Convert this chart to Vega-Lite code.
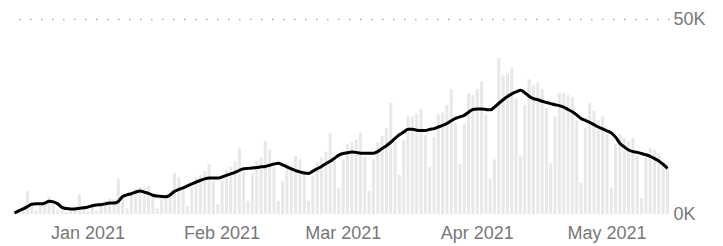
{
  "$schema": "https://vega.github.io/schema/vega-lite/v6.json",
  "width": 656,
  "height": 195,
  "autosize": {"type": "none"},
  "padding": {"left": 13, "top": 19, "right": 54, "bottom": 32},
  "background": "white",
  "config": {"view": {"stroke": null}, "font": "Liberation Sans"},
  "data": {"values": [
    {"date":"2020-12-15","cases":500,"avg":300},
    {"date":"2020-12-16","cases":1200,"avg":800},
    {"date":"2020-12-17","cases":2000,"avg":1300},
    {"date":"2020-12-18","cases":6000,"avg":1900},
    {"date":"2020-12-19","cases":3000,"avg":2500},
    {"date":"2020-12-20","cases":1000,"avg":2600},
    {"date":"2020-12-21","cases":2800,"avg":2600},
    {"date":"2020-12-22","cases":3200,"avg":2800},
    {"date":"2020-12-23","cases":4500,"avg":3300},
    {"date":"2020-12-24","cases":3500,"avg":3100},
    {"date":"2020-12-25","cases":800,"avg":2600},
    {"date":"2020-12-26","cases":1000,"avg":1700},
    {"date":"2020-12-27","cases":500,"avg":1400},
    {"date":"2020-12-28","cases":1600,"avg":1300},
    {"date":"2020-12-29","cases":2000,"avg":1300},
    {"date":"2020-12-30","cases":5000,"avg":1500},
    {"date":"2020-12-31","cases":2200,"avg":1600},
    {"date":"2021-01-01","cases":600,"avg":1800},
    {"date":"2021-01-02","cases":2000,"avg":2100},
    {"date":"2021-01-03","cases":800,"avg":2300},
    {"date":"2021-01-04","cases":3000,"avg":2400},
    {"date":"2021-01-05","cases":3400,"avg":2600},
    {"date":"2021-01-06","cases":4000,"avg":2800},
    {"date":"2021-01-07","cases":3800,"avg":2800},
    {"date":"2021-01-08","cases":9000,"avg":3200},
    {"date":"2021-01-09","cases":4000,"avg":4500},
    {"date":"2021-01-10","cases":1500,"avg":4900},
    {"date":"2021-01-11","cases":5400,"avg":5200},
    {"date":"2021-01-12","cases":6500,"avg":5600},
    {"date":"2021-01-13","cases":7000,"avg":5900},
    {"date":"2021-01-14","cases":6800,"avg":5600},
    {"date":"2021-01-15","cases":7200,"avg":5300},
    {"date":"2021-01-16","cases":4800,"avg":4800},
    {"date":"2021-01-17","cases":1400,"avg":4600},
    {"date":"2021-01-18","cases":4000,"avg":4500},
    {"date":"2021-01-19","cases":5200,"avg":4400},
    {"date":"2021-01-20","cases":6000,"avg":4900},
    {"date":"2021-01-21","cases":10500,"avg":5800},
    {"date":"2021-01-22","cases":9500,"avg":6300},
    {"date":"2021-01-23","cases":6400,"avg":6700},
    {"date":"2021-01-24","cases":2000,"avg":7200},
    {"date":"2021-01-25","cases":6900,"avg":7700},
    {"date":"2021-01-26","cases":9400,"avg":8200},
    {"date":"2021-01-27","cases":10000,"avg":8600},
    {"date":"2021-01-28","cases":11000,"avg":9000},
    {"date":"2021-01-29","cases":12800,"avg":9200},
    {"date":"2021-01-30","cases":8500,"avg":9200},
    {"date":"2021-01-31","cases":2600,"avg":9200},
    {"date":"2021-02-01","cases":8500,"avg":9500},
    {"date":"2021-02-02","cases":11400,"avg":9900},
    {"date":"2021-02-03","cases":12000,"avg":10300},
    {"date":"2021-02-04","cases":13500,"avg":10700},
    {"date":"2021-02-05","cases":17000,"avg":11200},
    {"date":"2021-02-06","cases":11000,"avg":11600},
    {"date":"2021-02-07","cases":3300,"avg":11700},
    {"date":"2021-02-08","cases":10500,"avg":11800},
    {"date":"2021-02-09","cases":13700,"avg":11900},
    {"date":"2021-02-10","cases":14500,"avg":12100},
    {"date":"2021-02-11","cases":18700,"avg":12200},
    {"date":"2021-02-12","cases":16500,"avg":12500},
    {"date":"2021-02-13","cases":12000,"avg":12800},
    {"date":"2021-02-14","cases":3300,"avg":13000},
    {"date":"2021-02-15","cases":8500,"avg":12600},
    {"date":"2021-02-16","cases":13000,"avg":12100},
    {"date":"2021-02-17","cases":12500,"avg":11600},
    {"date":"2021-02-18","cases":14900,"avg":11100},
    {"date":"2021-02-19","cases":14000,"avg":10800},
    {"date":"2021-02-20","cases":10000,"avg":10500},
    {"date":"2021-02-21","cases":3300,"avg":10400},
    {"date":"2021-02-22","cases":9900,"avg":11000},
    {"date":"2021-02-23","cases":13300,"avg":11600},
    {"date":"2021-02-24","cases":14600,"avg":12200},
    {"date":"2021-02-25","cases":16000,"avg":12900},
    {"date":"2021-02-26","cases":20800,"avg":13500},
    {"date":"2021-02-27","cases":13600,"avg":14300},
    {"date":"2021-02-28","cases":6700,"avg":15100},
    {"date":"2021-03-01","cases":14000,"avg":15500},
    {"date":"2021-03-02","cases":18000,"avg":15700},
    {"date":"2021-03-03","cases":18500,"avg":15900},
    {"date":"2021-03-04","cases":19000,"avg":15800},
    {"date":"2021-03-05","cases":20800,"avg":15600},
    {"date":"2021-03-06","cases":14800,"avg":15600},
    {"date":"2021-03-07","cases":6000,"avg":15600},
    {"date":"2021-03-08","cases":14000,"avg":15600},
    {"date":"2021-03-09","cases":18400,"avg":16000},
    {"date":"2021-03-10","cases":20000,"avg":16800},
    {"date":"2021-03-11","cases":22000,"avg":17500},
    {"date":"2021-03-12","cases":28500,"avg":18400},
    {"date":"2021-03-13","cases":18500,"avg":19400},
    {"date":"2021-03-14","cases":10000,"avg":20300},
    {"date":"2021-03-15","cases":18900,"avg":21000},
    {"date":"2021-03-16","cases":25000,"avg":21700},
    {"date":"2021-03-17","cases":25000,"avg":21700},
    {"date":"2021-03-18","cases":25800,"avg":21500},
    {"date":"2021-03-19","cases":27000,"avg":21400},
    {"date":"2021-03-20","cases":20300,"avg":21400},
    {"date":"2021-03-21","cases":12000,"avg":21700},
    {"date":"2021-03-22","cases":19700,"avg":21900},
    {"date":"2021-03-23","cases":25600,"avg":22300},
    {"date":"2021-03-24","cases":26000,"avg":22700},
    {"date":"2021-03-25","cases":28000,"avg":23200},
    {"date":"2021-03-26","cases":32000,"avg":23900},
    {"date":"2021-03-27","cases":23300,"avg":24500},
    {"date":"2021-03-28","cases":12800,"avg":24900},
    {"date":"2021-03-29","cases":23000,"avg":25300},
    {"date":"2021-03-30","cases":31000,"avg":26100},
    {"date":"2021-03-31","cases":30500,"avg":26800},
    {"date":"2021-04-01","cases":32000,"avg":26900},
    {"date":"2021-04-02","cases":34000,"avg":26900},
    {"date":"2021-04-03","cases":25500,"avg":26800},
    {"date":"2021-04-04","cases":9000,"avg":26700},
    {"date":"2021-04-05","cases":14000,"avg":27400},
    {"date":"2021-04-06","cases":40000,"avg":28400},
    {"date":"2021-04-07","cases":35500,"avg":29300},
    {"date":"2021-04-08","cases":36000,"avg":30100},
    {"date":"2021-04-09","cases":37400,"avg":30800},
    {"date":"2021-04-10","cases":29700,"avg":31300},
    {"date":"2021-04-11","cases":15000,"avg":31700},
    {"date":"2021-04-12","cases":28000,"avg":31100},
    {"date":"2021-04-13","cases":34500,"avg":30200},
    {"date":"2021-04-14","cases":33000,"avg":29600},
    {"date":"2021-04-15","cases":33600,"avg":29300},
    {"date":"2021-04-16","cases":32000,"avg":28900},
    {"date":"2021-04-17","cases":27200,"avg":28600},
    {"date":"2021-04-18","cases":13000,"avg":28300},
    {"date":"2021-04-19","cases":25000,"avg":28000},
    {"date":"2021-04-20","cases":31000,"avg":27800},
    {"date":"2021-04-21","cases":31000,"avg":27400},
    {"date":"2021-04-22","cases":30500,"avg":26800},
    {"date":"2021-04-23","cases":30000,"avg":26200},
    {"date":"2021-04-24","cases":24000,"avg":25400},
    {"date":"2021-04-25","cases":8000,"avg":24500},
    {"date":"2021-04-26","cases":22000,"avg":24000},
    {"date":"2021-04-27","cases":28500,"avg":23500},
    {"date":"2021-04-28","cases":26500,"avg":22900},
    {"date":"2021-04-29","cases":24000,"avg":22300},
    {"date":"2021-04-30","cases":25000,"avg":21800},
    {"date":"2021-05-01","cases":20500,"avg":21300},
    {"date":"2021-05-02","cases":6700,"avg":20800},
    {"date":"2021-05-03","cases":18000,"avg":19700},
    {"date":"2021-05-04","cases":20500,"avg":18100},
    {"date":"2021-05-05","cases":19500,"avg":17200},
    {"date":"2021-05-06","cases":18700,"avg":16400},
    {"date":"2021-05-07","cases":19500,"avg":16000},
    {"date":"2021-05-08","cases":15000,"avg":15800},
    {"date":"2021-05-09","cases":4000,"avg":15500},
    {"date":"2021-05-10","cases":14500,"avg":15200},
    {"date":"2021-05-11","cases":17000,"avg":14800},
    {"date":"2021-05-12","cases":16500,"avg":14200},
    {"date":"2021-05-13","cases":15500,"avg":13600},
    {"date":"2021-05-14","cases":13500,"avg":12700},
    {"date":"2021-05-15","cases":11800,"avg":11700}
  ]},
  "encoding": {
    "x": {
      "field": "date",
      "type": "ordinal",
      "scale": {"paddingInner": 0.3, "paddingOuter": 0},
      "axis": {
        "title": null,
        "values": ["2021-01-01","2021-02-01","2021-03-01","2021-04-01","2021-05-01"],
        "labelExpr": "utcFormat(toDate(datum.value), '%b %Y')",
        "labelAngle": 0,
        "ticks": false,
        "domain": false,
        "grid": false,
        "labelFontSize": 18,
        "labelColor": "#777777",
        "labelPadding": 10
      }
    }
  },
  "layer": [
    {
      "mark": {"type": "bar", "color": "#e8e8e8"},
      "encoding": {
        "y": {
          "field": "cases",
          "type": "quantitative",
          "scale": {"domain": [0, 50000]},
          "axis": {
            "orient": "right",
            "title": null,
            "values": [0, 50000],
            "labelExpr": "datum.value / 1000 + 'K'",
            "ticks": false,
            "domain": false,
            "grid": true,
            "gridDash": [1.5, 9.5],
            "gridWidth": 1.5,
            "gridColor": "#aaaaaa",
            "gridOpacity": {"condition": {"test": "datum.value === 0", "value": 0}, "value": 1},
            "labelFontSize": 18,
            "labelColor": "#777777",
            "labelPadding": 4
          }
        }
      }
    },
    {
      "mark": {"type": "line", "color": "#000000", "strokeWidth": 3, "interpolate": "monotone"},
      "encoding": {
        "y": {"field": "avg", "type": "quantitative"}
      }
    }
  ]
}
